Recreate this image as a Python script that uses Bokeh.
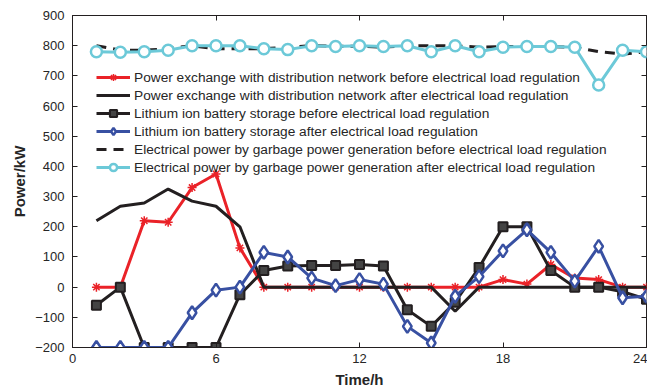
from bokeh.plotting import figure
from bokeh.models import Range1d, LinearAxis, FixedTicker, Legend, LegendItem
from bokeh.embed import file_html
from bokeh.resources import INLINE

hours = list(range(1, 25))

grid_before = [0, 0, 220, 215, 330, 375, 130, 0, 0, 0, 0, 0,
               0, 0, 0, 0, 0, 25, 10, 75, 30, 25, 0, 0]
grid_after = [220, 268, 279, 325, 285, 268, 200, 0, 0, 0, 0, 0,
              0, 0, 0, -80, 0, 0, 0, 0, 0, 0, 0, 0]
battery_before = [-60, 0, -200, -200, -200, -200, -25, 55, 70, 72, 72, 75,
                  70, -75, -130, -50, 65, 200, 200, 55, 0, 0, -15, -40]
battery_after = [-200, -200, -200, -200, -85, -10, 0, 115, 100, 30, 5, 25,
                 10, -130, -185, -30, 35, 120, 190, 115, 20, 135, -35, -30]
garbage_before = [800, 785, 785, 790, 800, 790, 790, 790, 795, 800, 798, 798,
                  795, 800, 800, 800, 795, 797, 797, 797, 795, 780, 772, 780]
garbage_after = [780, 778, 780, 785, 800, 800, 800, 790, 787, 800, 797, 800,
                 797, 800, 780, 800, 780, 795, 797, 797, 795, 670, 785, 780]

x_ticks = [0, 6, 12, 18, 24]
y_ticks = list(range(-200, 1000, 100))

labels = [
    "Power exchange with distribution network before electrical load regulation",
    "Power exchange with distribution network after electrical load regulation",
    "Lithium ion battery storage before electrical load regulation",
    "Lithium ion battery storage after electrical load regulation",
    "Electrical power by garbage power generation before electrical load regulation",
    "Electrical power by garbage power generation after electrical load regulation",
]

RED = "#EA2228"
BLACK = "#231F20"
BLUE = "#3850A2"
CYAN = "#6CC9D8"
FONT = "Liberation Sans"
TXT = "#262626"

p = figure(width=647, height=392, output_backend="svg", toolbar_location=None,
           x_range=Range1d(0, 24), y_range=Range1d(-200, 900),
           min_border_left=72, min_border_right=1, min_border_top=15,
           min_border_bottom=45)
p.xgrid.visible = False
p.ygrid.visible = False
p.outline_line_color = BLACK
p.outline_line_width = 1
p.background_fill_color = "white"
p.border_fill_color = "white"

for ax in (p.xaxis[0], p.yaxis[0]):
    ax.major_tick_in = 5
    ax.major_tick_out = 0
    ax.minor_tick_line_color = None
    ax.axis_line_color = BLACK
    ax.major_tick_line_color = BLACK
    ax.major_label_text_font = FONT
    ax.major_label_text_font_size = "13px"
    ax.major_label_text_color = TXT
    ax.axis_label_text_font = FONT
    ax.axis_label_text_font_size = "15px"
    ax.axis_label_text_font_style = "bold"
    ax.axis_label_text_color = TXT

p.xaxis[0].ticker = FixedTicker(ticks=x_ticks)
p.yaxis[0].ticker = FixedTicker(ticks=y_ticks)
p.xaxis[0].axis_label = "Time/h"
p.yaxis[0].axis_label = "Power/kW"
p.xaxis[0].major_label_standoff = 6
p.xaxis[0].axis_label_standoff = 5
p.yaxis[0].major_label_standoff = 8
p.yaxis[0].axis_label_standoff = 4

# mirrored tick marks on the top and right edges, without labels
top = LinearAxis(ticker=FixedTicker(ticks=x_ticks), major_label_text_color=None,
                 major_label_standoff=0, major_label_text_font_size="1px",
                 major_tick_in=5, major_tick_out=0, minor_tick_line_color=None,
                 axis_line_color=None, major_tick_line_color=BLACK)
right = LinearAxis(ticker=FixedTicker(ticks=y_ticks), major_label_text_color=None,
                   major_label_standoff=0, major_label_text_font_size="1px",
                   major_tick_in=5, major_tick_out=0, minor_tick_line_color=None,
                   axis_line_color=None, major_tick_line_color=BLACK)
p.add_layout(top, "above")
p.add_layout(right, "right")

items = []

l1 = p.line(hours, grid_before, line_color=RED, line_width=3)
s1 = p.scatter(hours, grid_before, marker="asterisk", size=9, line_color=RED, line_width=1.5)
items.append(LegendItem(label=labels[0], renderers=[l1, s1]))

l2 = p.line(hours, grid_after, line_color=BLACK, line_width=3)
items.append(LegendItem(label=labels[1], renderers=[l2]))

l3 = p.line(hours, battery_before, line_color=BLACK, line_width=3)
s3 = p.scatter(hours, battery_before, marker="square", size=9, line_color=BLACK,
               fill_color="#444444", line_width=2)
items.append(LegendItem(label=labels[2], renderers=[l3, s3]))

l4 = p.line(hours, battery_after, line_color=BLUE, line_width=3)
s4 = p.scatter(hours, battery_after, marker="diamond", size=13, line_color=BLUE,
               fill_color="white", line_width=2.5)
items.append(LegendItem(label=labels[3], renderers=[l4, s4]))

l5 = p.line(hours, garbage_before, line_color=BLACK, line_width=3, line_dash="10 7")
items.append(LegendItem(label=labels[4], renderers=[l5]))

l6 = p.line(hours, garbage_after, line_color=CYAN, line_width=3)
s6 = p.scatter(hours, garbage_after, marker="circle", size=11, line_color=CYAN,
               fill_color="white", line_width=2.5)
items.append(LegendItem(label=labels[5], renderers=[l6, s6]))

legend = Legend(items=items, location=(24, 171), padding=0, margin=0, spacing=0,
                glyph_width=34, glyph_height=18, label_height=18, label_standoff=4,
                label_text_font=FONT, label_text_font_size="13.7px",
                label_text_color=TXT, border_line_color=None,
                background_fill_alpha=0)
p.add_layout(legend, "center")

open("out.html", "w").write(file_html(p, INLINE))
